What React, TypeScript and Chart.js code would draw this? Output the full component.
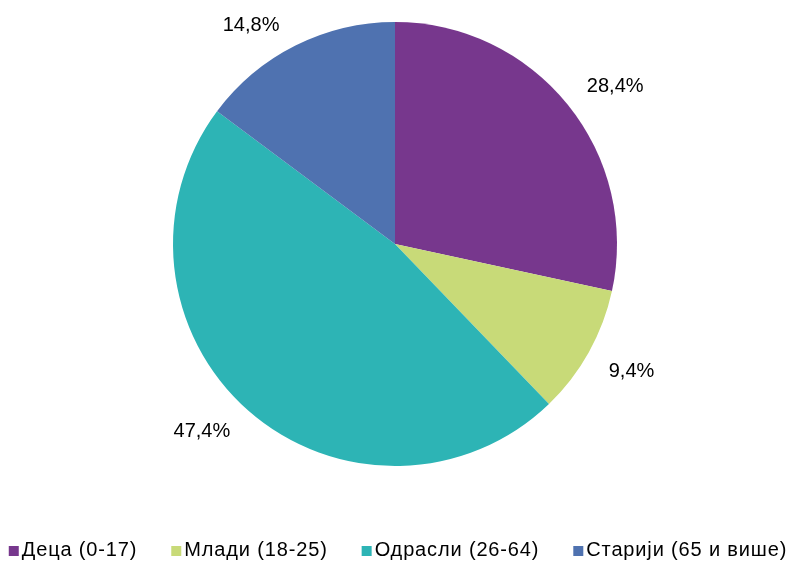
import React, { useEffect, useRef } from "react";
import { Chart, registerables } from "chart.js";

Chart.register(...registerables);

const categories = ["Деца (0-17)", "Млади (18-25)", "Одрасли (26-64)", "Старији (65 и више)"];
const values = [28.4, 9.4, 47.4, 14.8];
const valueLabels = ["28,4%", "9,4%", "47,4%", "14,8%"];
const colors = ["#77378D", "#C8DA78", "#2DB4B5", "#4F72B0"];

const FONT = "'Liberation Sans', Arial, sans-serif";

const outsideLabels = {
  id: "outsideLabels",
  afterDatasetsDraw(chart: any) {
    const ctx = chart.ctx;
    const meta = chart.getDatasetMeta(0);
    ctx.save();
    ctx.font = `20px ${FONT}`;
    ctx.fillStyle = "#000";
    ctx.textAlign = "center";
    ctx.textBaseline = "middle";
    meta.data.forEach((arc: any, i: number) => {
      const { x, y, startAngle, endAngle, outerRadius } = arc.getProps(
        ["x", "y", "startAngle", "endAngle", "outerRadius"],
        true
      );
      const mid = (startAngle + endAngle) / 2;
      const ux = Math.cos(mid);
      const uy = Math.sin(mid);
      const r = outerRadius + 9;
      const w = ctx.measureText(valueLabels[i]).width;
      const cx = x + ux * r + Math.sign(ux) * (w / 2 + 12);
      const cy = y + uy * r + Math.sign(uy) * (10 + 3.5);
      ctx.fillText(valueLabels[i], cx, cy + 1);
    });
    ctx.restore();
  },
};

const bottomLegend = {
  id: "bottomLegend",
  afterDraw(chart: any) {
    const ctx = chart.ctx;
    ctx.save();
    ctx.font = `20px ${FONT}`;
    (ctx as any).letterSpacing = "0.85px";
    ctx.textBaseline = "middle";
    ctx.textAlign = "left";
    const box = 10;
    const gap = 3;
    const itemGap = 34;
    const widths = categories.map((c) => ctx.measureText(c).width);
    const total =
      widths.reduce((a, w) => a + box + gap + w, 0) + itemGap * (categories.length - 1);
    let x = chart.width / 2 - total / 2 + 3;
    const yMid = chart.height - 13;
    categories.forEach((c, i) => {
      ctx.fillStyle = colors[i];
      ctx.fillRect(x, yMid - 4, box, box);
      ctx.fillStyle = "#000";
      ctx.fillText(c, x + box + gap, yMid);
      x += box + gap + widths[i] + itemGap;
    });
    ctx.restore();
  },
};

export default function App() {
  const ref = useRef<HTMLCanvasElement>(null);
  useEffect(() => {
    if (!ref.current) return;
    const chart = new Chart(ref.current, {
      type: "pie",
      data: {
        labels: categories,
        datasets: [
          {
            data: values,
            backgroundColor: colors,
            borderWidth: 0,
          },
        ],
      },
      options: {
        animation: false,
        responsive: true,
        maintainAspectRatio: false,
        layout: { padding: { top: 22, bottom: 97, left: 0, right: 0 } },
        plugins: {
          legend: { display: false },
          tooltip: { enabled: false },
        },
      },
      plugins: [outsideLabels, bottomLegend],
    });
    return () => chart.destroy();
  }, []);
  return (
    <div style={{ position: "absolute", left: 0, top: 0, width: 790, height: 563, background: "#fff" }}>
      <canvas ref={ref} />
    </div>
  );
}
